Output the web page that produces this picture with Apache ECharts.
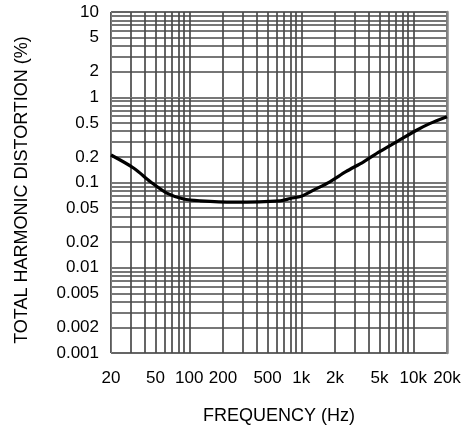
<!DOCTYPE html>
<html>
<head>
<meta charset="utf-8">
<script src="https://cdn.jsdelivr.net/npm/echarts@6/dist/echarts.min.js"></script>
<style>
  html, body { margin: 0; padding: 0; background: #fff; }
  #chart { width: 468px; height: 426px; }
</style>
</head>
<body>
<div id="chart"></div>
<script>
// THD vs frequency curve
const freqHz = [20, 32, 45, 63, 89, 125, 250, 650, 800, 1000, 1300, 1800, 2500, 3600, 5000, 7100, 10700, 14000, 20000];
const thdPercent = [0.21, 0.147, 0.102, 0.075, 0.064, 0.061, 0.059, 0.061, 0.065, 0.069, 0.082, 0.102, 0.134, 0.175, 0.23, 0.30, 0.41, 0.49, 0.59];

// Axis tick labels
const freqLabels = [20, 50, 100, 200, 500, 1000, 2000, 5000, 10000, 20000];
const freqLabelText = ['20', '50', '100', '200', '500', '1k', '2k', '5k', '10k', '20k'];
const thdLabels = [0.001, 0.002, 0.005, 0.01, 0.02, 0.05, 0.1, 0.2, 0.5, 1, 2, 5, 10];
const thdLabelText = ['0.001', '0.002', '0.005', '0.01', '0.02', '0.05', '0.1', '0.2', '0.5', '1', '2', '5', '10'];

const lg = Math.log10;

// 1..9 x 10^n grid positions across each decade
function decadeGrid(lo, hi) {
  const out = [];
  for (let p = Math.floor(lg(lo)); p <= Math.ceil(lg(hi)); p++) {
    for (let m = 1; m <= 9; m++) {
      const v = +(m * Math.pow(10, p)).toPrecision(6);
      if (v >= lo - 1e-12 && v <= hi + 1e-9) out.push(v);
    }
  }
  return out;
}
const freqGrid = decadeGrid(20, 20000);
const thdGrid = decadeGrid(0.001, 10);

function labelFor(values, texts) {
  return function (v) {
    for (let i = 0; i < values.length; i++) {
      if (Math.abs(lg(values[i]) - v) < 1e-6) return texts[i];
    }
    return '';
  };
}

const FONT = "'Liberation Sans', Arial, sans-serif";
const gridLine = { show: true, lineStyle: { color: '#4a4a4a', width: 1.7 } };

const chart = echarts.init(document.getElementById('chart'), null, { renderer: 'canvas' });
chart.setOption({
  animation: false,
  grid: {
    left: 111, right: 21, top: 12, bottom: 73,
    outerBoundsMode: 'none', containLabel: false,
    show: true, borderColor: '#777', borderWidth: 1
  },
  xAxis: {
    type: 'value',
    min: lg(20),
    max: lg(20000),
    name: 'FREQUENCY (Hz)',
    nameLocation: 'middle',
    nameGap: 54,
    nameTextStyle: { fontFamily: FONT, fontSize: 18, color: '#000' },
    axisLine: { show: true, lineStyle: { color: '#777', width: 1 } },
    axisTick: { show: false, customValues: freqGrid.map(lg) },
    axisLabel: {
      customValues: freqLabels.map(lg),
      formatter: labelFor(freqLabels, freqLabelText),
      margin: 17,
      fontFamily: FONT, fontSize: 17, color: '#000'
    },
    splitLine: gridLine
  },
  yAxis: [{
    type: 'value',
    min: lg(0.001),
    max: lg(10),
    name: 'TOTAL HARMONIC DISTORTION (%)',
    nameLocation: 'middle',
    nameGap: 80,
    nameTextStyle: { fontFamily: FONT, fontSize: 18, color: '#000', padding: [0, 15, 0, 0] },
    axisLine: { show: true, lineStyle: { color: '#777', width: 1 } },
    axisTick: { show: false, customValues: thdGrid.map(lg) },
    axisLabel: {
      customValues: thdLabels.map(lg),
      formatter: labelFor(thdLabels, thdLabelText),
      margin: 12,
      fontFamily: FONT, fontSize: 17, color: '#000'
    },
    splitLine: gridLine
  }, {
    type: 'value',
    position: 'right',
    min: lg(0.001),
    max: lg(10),
    axisLine: { show: true, lineStyle: { color: '#888', width: 2.5 } },
    axisTick: { show: false },
    axisLabel: { show: false },
    splitLine: { show: false }
  }],
  series: [{
    type: 'line',
    yAxisIndex: 0,
    data: freqHz.map((f, i) => [lg(f), lg(thdPercent[i])]),
    smooth: 0.3,
    symbol: 'none',
    lineStyle: { color: '#000', width: 3.2 },
    z: 5
  }]
});
</script>
</body>
</html>
